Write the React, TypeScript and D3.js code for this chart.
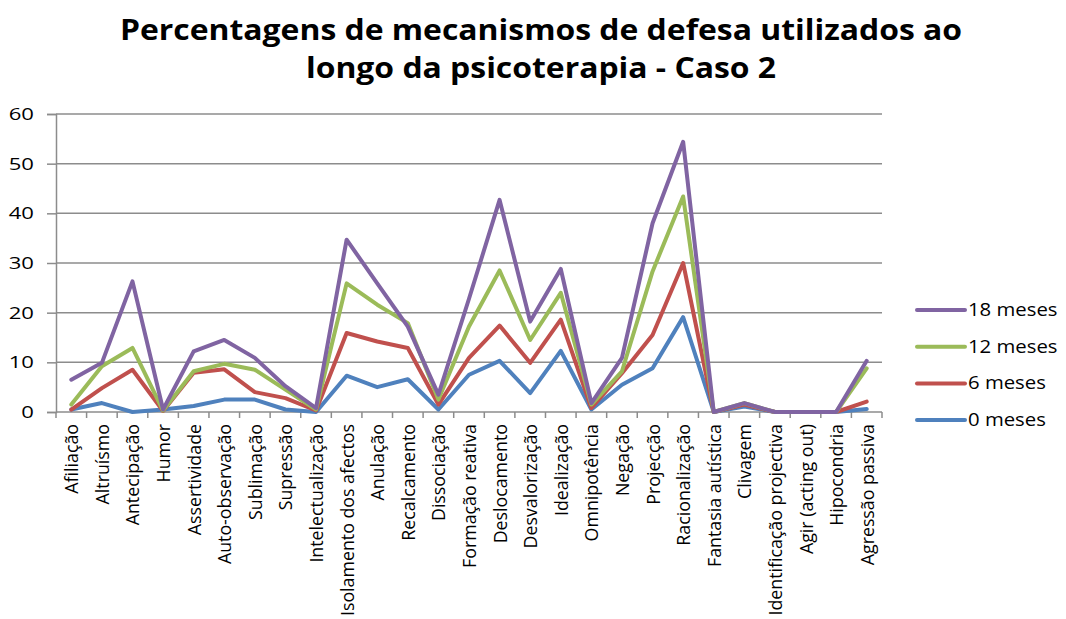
import * as d3 from 'd3';
import { useEffect, useRef } from 'react';

const categories = [
    'Afiliação', 'Altruísmo', 'Antecipação', 'Humor', 'Assertividade', 'Auto-observação',
    'Sublimação', 'Supressão', 'Intelectualização', 'Isolamento dos afectos', 'Anulação',
    'Recalcamento', 'Dissociação', 'Formação reativa', 'Deslocamento', 'Desvalorização',
    'Idealização', 'Omnipotência', 'Negação', 'Projecção', 'Racionalização',
    'Fantasia autística', 'Clivagem', 'Identificação projectiva', 'Agir (acting out)',
    'Hipocondria', 'Agressão passiva',
];

const meses0 = [0.5, 1.8, 0, 0.5, 1.2, 2.5, 2.5, 0.5, 0, 7.3, 5, 6.6, 0.5, 7.5, 10.3, 3.8, 12.3, 0.5, 5.5, 8.8, 19.1, 0, 1.1, 0, 0, 0, 0.6];
const meses6 = [0.5, 4.8, 8.5, 0.2, 7.9, 8.6, 4, 2.8, 0.3, 15.9, 14.2, 12.9, 1.5, 10.9, 17.4, 9.9, 18.6, 0.8, 7.8, 15.5, 30, 0, 1.5, 0, 0, 0, 2.1];
const meses12 = [1.5, 9.2, 12.9, 0.3, 8.2, 9.7, 8.5, 4.5, 0.5, 25.9, 21.6, 17.9, 2.5, 17.2, 28.5, 14.5, 24, 1.5, 8.2, 28.3, 43.4, 0, 1.8, 0, 0, 0, 8.8];
const meses18 = [6.5, 9.9, 26.3, 0.5, 12.2, 14.5, 10.9, 5.2, 0.8, 34.7, 25.9, 17.2, 3.5, 22.8, 42.7, 18.2, 28.8, 1.8, 10.9, 38, 54.4, 0, 1.8, 0, 0, 0, 10.3];

const yTicks = [0, 10, 20, 30, 40, 50, 60];

const series = [
    { name: '0 meses', values: meses0, color: '#4F81BD' },
    { name: '6 meses', values: meses6, color: '#C0504D' },
    { name: '12 meses', values: meses12, color: '#9BBB59' },
    { name: '18 meses', values: meses18, color: '#8064A2' },
];

const titleLines = ['Percentagens de mecanismos de defesa utilizados ao', 'longo da psicoterapia - Caso 2'];

export default function App() {
    const ref = useRef<SVGSVGElement | null>(null);

    useEffect(() => {
        const svg = d3.select(ref.current);
        svg.selectAll('*').remove();

        const width = 1066;
        const height = 619;
        const margin = { top: 114, right: 184, bottom: 207, left: 56 };
        const font = '"Open Sans", sans-serif';

        svg.attr('width', width).attr('height', height);
        svg.append('rect').attr('width', width).attr('height', height).attr('fill', '#fff');

        const x = d3.scaleBand()
            .domain(categories)
            .range([margin.left, width - margin.right]);

        const y = d3.scaleLinear()
            .domain([0, 60])
            .range([height - margin.bottom, margin.top]);

        // title (the original is stretched sideways a little)
        svg.append('g')
            .selectAll('text')
            .data(titleLines)
            .enter()
            .append('text')
            .attr('transform', (_d, i) => `translate(541,${40 + i * 38}) scale(1.1,1)`)
            .attr('text-anchor', 'middle')
            .attr('font-family', font)
            .attr('font-weight', 'bold')
            .attr('font-size', 29)
            .attr('fill', '#000')
            .text(d => d);

        // gridlines + y labels
        const yAxis = svg.append('g')
            .attr('transform', `translate(${margin.left},0)`)
            .call(d3.axisLeft(y).tickValues(yTicks).tickSize(9)
                .tickFormat(d3.format('d')));
        yAxis.select('.domain').attr('stroke', '#8c8c8c').attr('stroke-width', 1.5);
        yAxis.selectAll('line').attr('stroke', '#8c8c8c').attr('stroke-width', 1.5);
        yAxis.selectAll('text')
            .attr('x', -17)
            .attr('transform', 'scale(1.3,1)')
            .attr('font-family', font)
            .attr('font-size', 17)
            .attr('fill', '#000');

        svg.append('g')
            .selectAll('line')
            .data(yTicks.filter(t => t > 0))
            .enter()
            .append('line')
            .attr('x1', margin.left)
            .attr('x2', width - margin.right)
            .attr('y1', d => y(d))
            .attr('y2', d => y(d))
            .attr('stroke', '#8c8c8c')
            .attr('stroke-width', 1.5);

        // x axis
        const xAxisG = svg.append('g')
            .attr('transform', `translate(0,${y(0)})`);
        xAxisG.append('line')
            .attr('x1', margin.left)
            .attr('x2', width - margin.right)
            .attr('stroke', '#8c8c8c')
            .attr('stroke-width', 1.5);
        xAxisG.selectAll('.tick')
            .data([...categories.map(c => x(c)!), width - margin.right])
            .enter()
            .append('line')
            .attr('x1', d => d)
            .attr('x2', d => d)
            .attr('y1', 0)
            .attr('y2', 6)
            .attr('stroke', '#8c8c8c')
            .attr('stroke-width', 1.5);
        xAxisG.selectAll('text')
            .data(categories)
            .enter()
            .append('text')
            .attr('transform', d => `translate(${x(d)! + x.bandwidth() / 2 + 7},12) rotate(-90)`)
            .attr('text-anchor', 'end')
            .attr('font-family', font)
            .attr('font-size', 17.8)
            .attr('fill', '#000')
            .text(d => d);

        // lines
        const line = d3.line<number>()
            .x((_d, i) => x(categories[i])! + x.bandwidth() / 2)
            .y(d => y(d));

        svg.append('g')
            .selectAll('path')
            .data(series)
            .enter()
            .append('path')
            .attr('d', d => line(d.values))
            .attr('fill', 'none')
            .attr('stroke', d => d.color)
            .attr('stroke-width', 4)
            .attr('stroke-linejoin', 'round')
            .attr('stroke-linecap', 'round');

        // legend
        const legend = svg.append('g')
            .selectAll('g')
            .data([...series].reverse())
            .enter()
            .append('g')
            .attr('transform', (_d, i) => `translate(917,${310 + i * 36.7})`);
        legend.append('line')
            .attr('x1', 0)
            .attr('x2', 48)
            .attr('stroke', d => d.color)
            .attr('stroke-width', 4)
            .attr('stroke-linecap', 'round');
        legend.append('text')
            .attr('transform', 'translate(51,6) scale(1.13,1)')
            .attr('font-family', font)
            .attr('font-size', 18)
            .attr('fill', '#000')
            .text(d => d.name);
    }, []);

    return <svg ref={ref} style={{ position: 'absolute', left: 0, top: 0 }}></svg>;
}
